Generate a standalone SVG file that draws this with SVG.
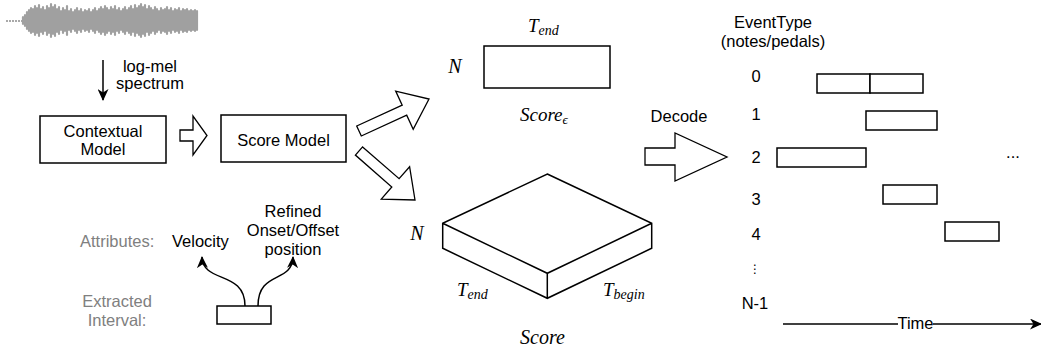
<svg xmlns="http://www.w3.org/2000/svg" width="1041" height="351" viewBox="0 0 1041 351">
<defs>
<style>
.box{fill:#fff;stroke:#000;stroke-width:1.5}
.blk{fill:#fff;stroke:#000;stroke-width:1.3;stroke-linejoin:miter}
.t{font-family:"Liberation Sans",Arial,sans-serif;font-size:16.5px;fill:#000}
.g{fill:#808080}
.c{text-anchor:middle}
.m{font-family:"Liberation Serif","Times New Roman",serif;font-style:italic;fill:#000}
.ln{fill:none;stroke:#000;stroke-width:1.5}
</style>
<marker id="ah" markerWidth="12" markerHeight="11" refX="11" refY="5.5" orient="auto" markerUnits="userSpaceOnUse">
<path d="M0,0 L12,5.5 L0,11 L3.5,5.5 Z" fill="#000"/>
</marker>
</defs>
<rect width="1041" height="351" fill="#fff"/>

<g id="waveform">
<path d="M6,21H23" stroke="#555" stroke-width="1.2" stroke-dasharray="2,1" fill="none"/>
<path id="wv" stroke="#a0a0a0" stroke-width="2.1" fill="none" d="M23,16.5v8M25,14.5v12M27,11.5v18M29,9.5v22M31,7.5v26M33,8.5v24M35,5.5v30M37,7.5v26M39,4.5v32M41,8.5v24M43,6.5v28M45,9.5v22M47,5.5v30M49,7.5v26M51,3.5v34M53,6.5v28M55,4.5v32M57,8.5v24M59,6.5v28M61,10.5v20M63,7.5v26M65,9.5v22M67,5.5v30M69,10.5v20M71,8.5v24M73,11.5v18M75,9.5v22M77,7.5v26M79,10.5v20M81,8.5v24M83,11.5v18M85,9.5v22M87,10.5v20M89,8.5v24M91,11.5v18M93,9.5v22M95,7.5v26M97,10.5v20M99,8.5v24M101,6.5v28M103,8.5v24M105,5.5v30M107,7.5v26M109,9.5v22M111,6.5v28M113,8.5v24M115,5.5v30M117,9.5v22M119,7.5v26M121,10.5v20M123,8.5v24M125,6.5v28M127,9.5v22M129,7.5v26M131,5.5v30M133,8.5v24M135,4.5v32M137,7.5v26M139,5.5v30M141,3.5v34M143,6.5v28M145,4.5v32M147,8.5v24M149,5.5v30M151,7.5v26M153,9.5v22M155,6.5v28M157,8.5v24M159,10.5v20M161,7.5v26M163,9.5v22M165,8.5v24M167,6.5v28M169,9.5v22M171,7.5v26M173,10.5v20M175,8.5v24M177,9.5v22M179,7.5v26M181,10.5v20M183,8.5v24M185,9.5v22M187,8.5v24M189,10.5v20M191,9.5v22M193,10.5v20M195,9.5v22M197,10.5v20"/>
<use href="#wv" stroke="#555" stroke-width="0.9"/>
</g>

<g id="connectors">
<line class="ln" x1="103" y1="60" x2="103" y2="100" marker-end="url(#ah)"/>
<polygon class="blk" points="180,130 193,130 193,116 207,135.5 193,155 193,141 180,141"/>
<polygon class="blk" points="356.7,126 402.2,105.2 395.7,91.1 429,99 413.2,129.3 406.7,115.2 361.3,136"/>
<polygon class="blk" points="362.6,146.9 399.1,178.7 409.6,166.7 415,200 381.3,199.1 391.8,187 355.4,155.1"/>
<polygon class="blk" points="645,148 675,148 675,133 727,157 675,181 675,165 645,165"/>
<path class="ln" d="M245,306 C245,270 203,284 202,257" marker-end="url(#ah)"/>
<path class="ln" d="M258,306 C258,270 292,284 293,257" marker-end="url(#ah)"/>
<line class="ln" x1="783" y1="324" x2="1041" y2="324" marker-end="url(#ah)"/>
</g>

<g id="logmel-label">
<text class="t c" x="150" y="72">log-mel</text>
<text class="t c" x="150" y="89">spectrum</text>
</g>

<g id="contextual-model">
<rect class="box" x="40" y="116" width="126" height="47"/>
<text class="t c" x="103" y="137">Contextual</text>
<text class="t c" x="103" y="155">Model</text>
</g>

<g id="score-model">
<rect class="box" x="221" y="115" width="125" height="47"/>
<text class="t c" x="283.5" y="146">Score Model</text>
</g>

<g id="score-eps">
<rect class="box" x="484" y="46" width="126" height="42"/>
<text class="m" x="528" y="32" font-size="19">T<tspan font-size="14" dy="3">end</tspan></text>
<text class="m c" x="455" y="73" font-size="20">N</text>
<text class="m" x="520" y="121" font-size="19">Score<tspan font-size="13" dy="3">ϵ</tspan></text>
</g>

<g id="score-tensor">
<path class="box" stroke-linejoin="miter" d="M547.3,174 L651.7,223.3 L651.7,248.3 L547.3,298.3 L442.7,248.3 L442.7,223.3 Z M442.7,223.3 L547.3,273.3 L651.7,223.3 M547.3,273.3 L547.3,298.3"/>
<text class="m c" x="417" y="240" font-size="20">N</text>
<text class="m" x="457" y="296" font-size="19">T<tspan font-size="14" dy="3">end</tspan></text>
<text class="m" x="603" y="296" font-size="19">T<tspan font-size="14" dy="3">begin</tspan></text>
<text class="m" x="520" y="344" font-size="20">Score</text>
</g>

<g id="attributes">
<text class="t g" x="80" y="247">Attributes:</text>
<text class="t" x="172" y="247">Velocity</text>
<text class="t c" x="293" y="217">Refined</text>
<text class="t c" x="293" y="236">Onset/Offset</text>
<text class="t c" x="293" y="255">position</text>
</g>

<g id="extracted-interval">
<text class="t g c" x="117" y="307">Extracted</text>
<text class="t g c" x="117" y="326">Interval:</text>
<rect class="box" x="217" y="306" width="54" height="18"/>
</g>

<g id="decode">
<text class="t c" x="679" y="122">Decode</text>
</g>

<g id="event-labels">
<text class="t c" x="773" y="28">EventType</text>
<text class="t c" x="773" y="47">(notes/pedals)</text>
<text class="t c" x="756" y="82">0</text>
<text class="t c" x="756" y="120">1</text>
<text class="t c" x="756" y="163">2</text>
<text class="t c" x="756" y="205">3</text>
<text class="t c" x="756" y="240">4</text>
<text class="c" x="755" y="273" font-family="DejaVu Sans,sans-serif" font-size="12" fill="#000">⋮</text>
<text class="t c" x="755" y="309">N-1</text>
<text class="t c" x="1013" y="158" font-size="13">...</text>
</g>

<g id="events">
<rect class="box" x="817" y="74" width="53" height="19"/>
<rect class="box" x="870" y="74" width="53" height="19"/>
<rect class="box" x="866" y="111" width="71" height="19"/>
<rect class="box" x="777" y="148" width="89" height="19"/>
<rect class="box" x="883" y="185" width="54" height="19"/>
<rect class="box" x="945" y="222" width="54" height="19"/>
</g>

<g id="time-axis">
<rect x="898" y="315" width="35" height="16" fill="#fff"/>
<text class="t c" x="915.5" y="329" font-size="14.5">Time</text>
</g>
</svg>
